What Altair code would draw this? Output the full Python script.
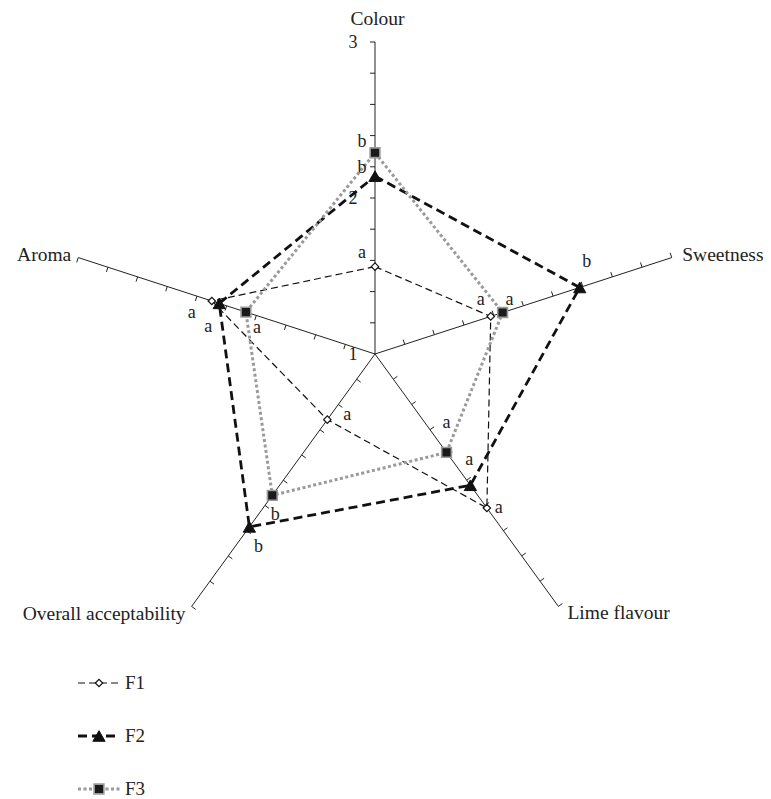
import math
import altair as alt
import pandas as pd

# ---------------- data ----------------
attributes = ["Colour", "Sweetness", "Lime flavour", "Overall acceptability", "Aroma"]
series = ["F1", "F2", "F3"]
f1_values = [1.56, 1.78, 2.22, 1.52, 2.10]
f2_values = [2.14, 2.38, 2.04, 2.37, 2.05]
f3_values = [2.29, 1.86, 1.78, 2.12, 1.87]
f1_letters = ["a", "a", "a", "a", "a"]
f2_letters = ["b", "b", "a", "b", "a"]
f3_letters = ["b", "a", "a", "b", "a"]
scale_min, scale_max = 1.0, 3.0
tick_values = [1.2, 1.4, 1.6, 1.8, 2.0, 2.2, 2.4, 2.6, 2.8, 3.0]
tick_labels = [1, 2, 3]

# ---------------- layout / style (not data) ----------------
W, H = 755, 791
CX, CY = 367, 346            # centre of the web, plot pixels
PX = 156                     # pixels per unit on the radial scale
FONT = "Liberation Serif"
# letter offsets (pixels, right / up) for each series at each attribute
f1_off = [(-13, 14), (-10, 16), (12, 0), (20, 5), (-20, -12)]
f2_off = [(-13, 8), (7, 25), (-1, 25), (9, -20), (-11, -24)]
f3_off = [(-13, 11), (7, 13), (0, 29), (3, -20), (11, -16)]
# category label offsets from the axis end (alphabetic baseline) and alignment
cat_off = [(2.5, 17, "center"), (10.5, -3.5, "left"), (9, -12.5, "left"),
           (-6, -13.5, "right"), (-7, -3.5, "right")]
legend_rows = [-329, -382, -435]

xs = alt.Scale(domain=[-CX, W - CX], nice=False, zero=False)
ys = alt.Scale(domain=[-(H - CY), CY], nice=False, zero=False)
ANG = "PI/2 - datum.idx*2*PI/5"

# points table
values = {"F1": f1_values, "F2": f2_values, "F3": f3_values}
letters = {"F1": f1_letters, "F2": f2_letters, "F3": f3_letters}
offs = {"F1": f1_off, "F2": f2_off, "F3": f3_off}
rows = []
for s in series:
    for i in range(len(attributes) + 1):
        k = i % len(attributes)
        rows.append({"series": s, "idx": k, "ord": i, "value": values[s][k],
                     "letter": letters[s][k], "ox": offs[s][k][0], "oy": offs[s][k][1],
                     "closing": i == len(attributes)})
pts = pd.DataFrame(rows)

base_pts = alt.Chart(pts).transform_calculate(
    ang=ANG,
    r=f"(datum.value-{scale_min})*{PX}",
).transform_calculate(
    X="datum.r*cos(datum.ang)", Y="datum.r*sin(datum.ang)"
).transform_calculate(
    LX="datum.X + datum.ox", LY="datum.Y + datum.oy"
)

axes_df = pd.DataFrame({"attr": attributes, "idx": list(range(len(attributes))),
                        "ox": [c[0] for c in cat_off], "oy": [c[1] for c in cat_off],
                        "al": [c[2] for c in cat_off]})
axes_base = alt.Chart(axes_df).transform_calculate(
    ang=ANG, r=f"({scale_max}-{scale_min})*{PX}"
).transform_calculate(
    X="datum.r*cos(datum.ang)", Y="datum.r*sin(datum.ang)", X0="0", Y0="0"
).transform_calculate(
    LX="datum.X + datum.ox", LY="datum.Y + datum.oy"
)

axis_lines = axes_base.mark_rule(color="#222", strokeWidth=1).encode(
    x=alt.X("X0:Q", scale=xs, axis=None), y=alt.Y("Y0:Q", scale=ys, axis=None),
    x2="X:Q", y2="Y:Q")

cat_layers = []
for al in ["center", "left", "right"]:
    cat_layers.append(
        axes_base.transform_filter(f"datum.al == '{al}'").mark_text(
            font=FONT, fontSize=19.5, align=al, baseline="alphabetic", color="#222"
        ).encode(x=alt.X("LX:Q", scale=xs, axis=None), y=alt.Y("LY:Q", scale=ys, axis=None),
                 text="attr:N"))

tick_rows = [{"idx": i, "tv": t} for i in range(len(attributes)) for t in tick_values]
ticks = alt.Chart(pd.DataFrame(tick_rows)).transform_calculate(
    ang=ANG, r=f"(datum.tv-{scale_min})*{PX}"
).transform_calculate(
    X="datum.r*cos(datum.ang)", Y="datum.r*sin(datum.ang)"
).transform_calculate(
    X2="datum.X + 5*cos(datum.ang + PI/2)", Y2="datum.Y + 5*sin(datum.ang + PI/2)"
).mark_rule(color="#222", strokeWidth=1).encode(
    x=alt.X("X:Q", scale=xs, axis=None), y=alt.Y("Y:Q", scale=ys, axis=None),
    x2="X2:Q", y2="Y2:Q")

tl = alt.Chart(pd.DataFrame({"tv": tick_labels})).transform_calculate(
    X="-22", Y=f"(datum.tv-{scale_min})*{PX} - 1", txt="''+datum.tv"
).mark_text(font=FONT, fontSize=18, align="center", baseline="middle", color="#222").encode(
    x=alt.X("X:Q", scale=xs, axis=None), y=alt.Y("Y:Q", scale=ys, axis=None), text="txt:N")

styles = {
    "F1": dict(line=dict(color="#111", strokeWidth=1.2, strokeDash=[7, 4]),
               pt=dict(shape="diamond", size=55, filled=True, fill="white", stroke="#111", strokeWidth=1.2)),
    "F2": dict(line=dict(color="#111", strokeWidth=2.8, strokeDash=[9, 5]),
               pt=dict(shape="triangle-up", size=150, filled=True, fill="#111", stroke="#111", strokeWidth=1)),
    "F3": dict(line=dict(color="#9a9a9a", strokeWidth=3, strokeDash=[3, 2.5]),
               pt=dict(shape="square", size=95, filled=True, fill="#1a1a1a", stroke="#9a9a9a", strokeWidth=1.6)),
}

line_layers, pt_layers, leg_layers = [], [], []
for j, s in enumerate(series):
    b = base_pts.transform_filter(f"datum.series == '{s}'")
    line_layers.append(b.mark_line(**styles[s]["line"]).encode(
        x=alt.X("X:Q", scale=xs, axis=None), y=alt.Y("Y:Q", scale=ys, axis=None),
        order="ord:Q"))
    pt_layers.append(b.transform_filter("!datum.closing").mark_point(opacity=1, **styles[s]["pt"]).encode(
        x=alt.X("X:Q", scale=xs, axis=None), y=alt.Y("Y:Q", scale=ys, axis=None)))
    pt_layers.append(b.transform_filter("!datum.closing").mark_text(
        font=FONT, fontSize=18, align="center", baseline="middle", color="#222").encode(
        x=alt.X("LX:Q", scale=xs, axis=None), y=alt.Y("LY:Q", scale=ys, axis=None), text="letter:N"))
    ld = alt.Chart(pd.DataFrame({"series": [s]})).transform_calculate(
        Y=str(legend_rows[j]), XA="-297", XB="-255", XM="-276", XT="-250")
    leg_layers.append(ld.mark_rule(**styles[s]["line"]).encode(
        x=alt.X("XA:Q", scale=xs, axis=None), x2="XB:Q", y=alt.Y("Y:Q", scale=ys, axis=None)))
    leg_layers.append(ld.mark_point(opacity=1, **styles[s]["pt"]).encode(
        x=alt.X("XM:Q", scale=xs, axis=None), y=alt.Y("Y:Q", scale=ys, axis=None)))
    leg_layers.append(ld.mark_text(font=FONT, fontSize=19, align="left", baseline="middle",
                                   color="#222").encode(
        x=alt.X("XT:Q", scale=xs, axis=None), y=alt.Y("Y:Q", scale=ys, axis=None), text="series:N"))

chart = alt.layer(
    axis_lines, ticks, tl, *cat_layers, *line_layers, *pt_layers, *leg_layers
).properties(width=W, height=H, padding=0,
             autosize=alt.AutoSizeParams(type="none")
).configure_view(stroke=None)

chart.save("out.html", embed_options={"renderer": "svg", "actions": False})
